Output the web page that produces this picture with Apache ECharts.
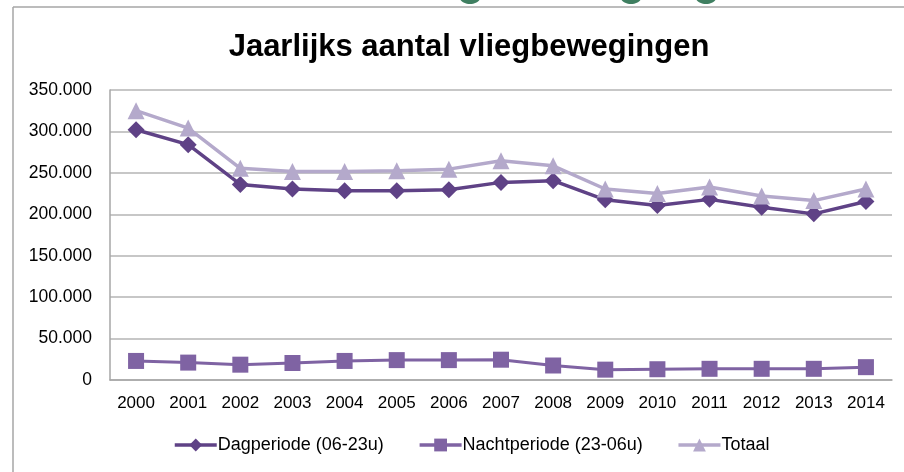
<!DOCTYPE html>
<html>
<head>
<meta charset="utf-8">
<script src="https://cdn.jsdelivr.net/npm/echarts@6/dist/echarts.min.js"></script>
<style>
html,body{margin:0;padding:0;background:#fff;}
#c{width:904px;height:472px;}
</style>
</head>
<body>
<div id="c"></div>
<script>
const years = ['2000','2001','2002','2003','2004','2005','2006','2007','2008','2009','2010','2011','2012','2013','2014'];
const dagperiode = [302000, 284000, 236000, 230500, 228500, 228500, 229500, 238500, 240500, 217500, 210500, 218000, 208500, 200500, 215500];
const nachtperiode = [23000, 21000, 18500, 20500, 23000, 24000, 24000, 24500, 17500, 12500, 13000, 13500, 13500, 13500, 15500];
const totaal = [325000, 304000, 255500, 251500, 251500, 252500, 254500, 264500, 258500, 230500, 225000, 233000, 222000, 216500, 230500];
const yTicks = { min: 0, max: 350000, interval: 50000 };

const FONT = 'Liberation Sans';
const chart = echarts.init(document.getElementById('c'), null, { renderer: 'canvas' });
function fmt(v) {
  if (v === 0) return '0';
  return String(v).replace(/\B(?=(\d{3})+(?!\d))/g, '.');
}
chart.setOption({
  backgroundColor: '#ffffff',
  animation: false,
  title: {
    text: 'Jaarlijks aantal vliegbewegingen',
    left: 464, top: 27, textAlign: 'center',
    textStyle: { fontFamily: FONT, fontSize: 31, fontWeight: 'bold', color: '#000' }
  },
  graphic: [
    { type: 'line', shape: { x1: 13, y1: 7, x2: 904, y2: 7 }, style: { stroke: '#a6a6a6', lineWidth: 1.5 } },
    { type: 'line', shape: { x1: 13, y1: 7, x2: 13, y2: 472 }, style: { stroke: '#a6a6a6', lineWidth: 1.5 } },
    { type: 'ellipse', shape: { cx: 470, cy: -2, rx: 10, ry: 6 }, style: { fill: '#3f7f61' } },
    { type: 'ellipse', shape: { cx: 631, cy: -2, rx: 10, ry: 6 }, style: { fill: '#3f7f61' } },
    { type: 'ellipse', shape: { cx: 706, cy: -2, rx: 10, ry: 6 }, style: { fill: '#3f7f61' } }
  ],
  legend: {
    bottom: 13, left: 168,
    itemWidth: 42, itemHeight: 16, itemGap: 34,
    lineStyle: { width: 3.5 },
    textStyle: { fontFamily: FONT, fontSize: 18, color: '#000', padding: [0, 0, 0, -4] },
    data: ['Dagperiode (06-23u)', 'Nachtperiode (23-06u)', 'Totaal']
  },
  grid: { left: 110, right: 12, top: 90, bottom: 92, containLabel: false },
  xAxis: {
    type: 'category', data: years, boundaryGap: true,
    axisLine: { lineStyle: { color: '#a6a6a6', width: 1.5 } },
    axisTick: { show: false },
    axisLabel: { fontFamily: FONT, fontSize: 17, color: '#000', margin: 15 }
  },
  yAxis: {
    type: 'value', min: yTicks.min, max: yTicks.max, interval: yTicks.interval,
    axisLine: { show: true, lineStyle: { color: '#a6a6a6', width: 1.5 } },
    axisTick: { show: false },
    splitLine: { lineStyle: { color: '#b4b4b4', width: 1.5 } },
    axisLabel: { fontFamily: FONT, fontSize: 17.5, color: '#000', margin: 18, formatter: fmt }
  },
  series: [
    {
      name: 'Dagperiode (06-23u)', type: 'line', data: dagperiode,
      symbol: 'diamond', symbolSize: 17,
      lineStyle: { color: '#5f4286', width: 3.5 },
      itemStyle: { color: '#5f4286' }
    },
    {
      name: 'Nachtperiode (23-06u)', type: 'line', data: nachtperiode,
      symbol: 'rect', symbolSize: 16,
      lineStyle: { color: '#7f63a3', width: 3 },
      itemStyle: { color: '#7f63a3' }
    },
    {
      name: 'Totaal', type: 'line', data: totaal,
      symbol: 'triangle', symbolSize: 17,
      lineStyle: { color: '#b4a9cb', width: 3.5 },
      itemStyle: { color: '#b4a9cb' }
    }
  ]
});
</script>
</body>
</html>
